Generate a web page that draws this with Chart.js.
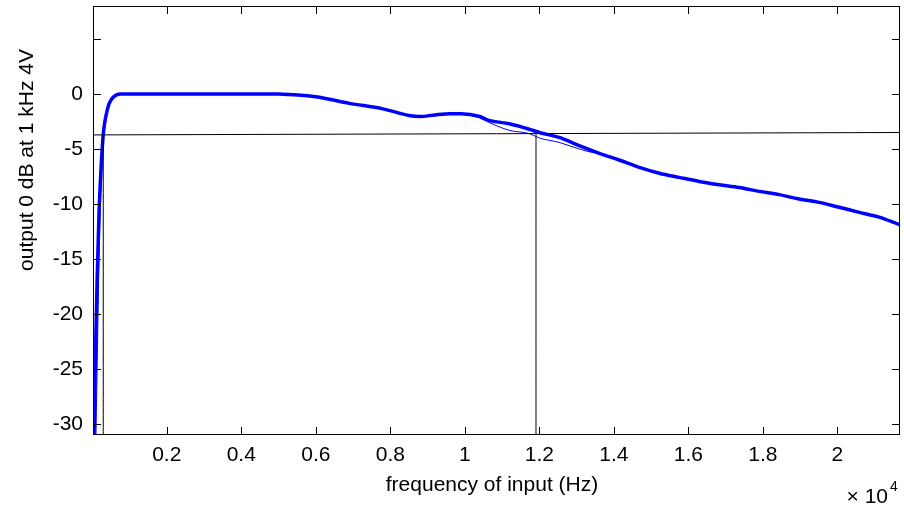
<!DOCTYPE html>
<html>
<head>
<meta charset="utf-8">
<script src="https://cdn.jsdelivr.net/npm/chart.js@4/dist/chart.umd.min.js"></script>
<style>
  html, body { margin: 0; padding: 0; background: #fff; }
  #wrap { width: 904px; height: 510px; position: relative; }
</style>
</head>
<body>
<div id="wrap"><canvas id="c" width="904" height="510"></canvas></div>
<script>
// ---- data ----
const freqThick = [20, 50, 90, 130, 180, 240, 295, 330, 380, 450, 560, 750, 1000, 2000, 3000, 4000, 5000, 5300, 6000, 6900, 7800, 8500, 8800, 9200, 9600, 9900, 10400, 10650, 11190, 11730, 12000, 12530, 13070, 13610, 14140, 14680, 15220, 15750, 16290, 16830, 17360, 17900, 18440, 18970, 19510, 20050, 20590, 21120, 21680];
const dbThick   = [-40, -31, -23, -17, -11, -6.5, -3.7, -2.7, -1.8, -0.9, -0.3, 0, 0, 0, 0, 0, 0, -0.05, -0.25, -0.85, -1.35, -1.95, -2.05, -1.9, -1.8, -1.8, -2.05, -2.4, -2.7, -3.2, -3.5, -3.95, -4.7, -5.4, -6.0, -6.67, -7.2, -7.58, -7.95, -8.25, -8.5, -8.85, -9.15, -9.55, -9.85, -10.3, -10.76, -11.2, -11.9];
const freqThin  = [60, 100, 140, 170, 210, 260, 300, 330, 380, 450, 560, 750, 5000, 5300, 6000, 6900, 7800, 8500, 8800, 9200, 9600, 9900, 10300, 10470, 11190, 11730, 12000, 12530, 13070, 13400, 13610, 14140, 14680, 15220, 15750, 16290, 16830, 17360, 17900, 18440, 18970, 19510, 20050, 20590, 21120, 21680];
const dbThin    = [-40, -31, -23, -17, -11, -6.5, -3.8, -2.7, -1.8, -0.9, -0.3, 0, 0, -0.05, -0.25, -0.85, -1.35, -1.95, -2.05, -1.9, -1.8, -1.8, -2.0, -2.3, -3.3, -3.6, -4.0, -4.4, -5.0, -5.3, -5.4, -6.0, -6.67, -7.2, -7.58, -7.95, -8.25, -8.5, -8.85, -9.15, -9.55, -9.85, -10.3, -10.76, -11.2, -11.9];
const refLevelX = [20, 21680];
const refLevelY = [-3.72, -3.5];
const cutoffLow = 295;
const cutoffHigh = 11910;
const xTickValues = [2000, 4000, 6000, 8000, 10000, 12000, 14000, 16000, 18000, 20000];
const yTickValues = [-30, -25, -20, -15, -10, -5, 0, 5];
const yLabelHidden = [5];
const xRange = [20, 21680];
const yRange = [-31, 8];
const xTitle = 'frequency of input (Hz)';
const yTitle = 'output 0 dB at 1 kHz 4V';
const xExponent = '4';

const toPts = (xs, ys) => xs.map((x, i) => ({ x: x, y: ys[i] }));

const FONT = '"Liberation Sans", Arial, sans-serif';

const framePlugin = {
  id: 'matlabFrame',
  afterDatasetsDraw(chart) {
    const { ctx, chartArea: a, scales } = chart;
    const xs = scales.x, ys = scales.y;
    ctx.save();
    ctx.strokeStyle = '#000';
    ctx.lineWidth = 1;
    const tl = 8;
    ctx.beginPath();
    xs.ticks.forEach(t => {
      const px = Math.round(xs.getPixelForValue(t.value)) + 0.5;
      ctx.moveTo(px, a.bottom); ctx.lineTo(px, a.bottom - tl);
      ctx.moveTo(px, a.top); ctx.lineTo(px, a.top + tl);
    });
    ys.ticks.forEach(t => {
      const py = Math.round(ys.getPixelForValue(t.value)) + 0.5;
      ctx.moveTo(a.left, py); ctx.lineTo(a.left + tl, py);
      ctx.moveTo(a.right, py); ctx.lineTo(a.right - tl, py);
    });
    ctx.stroke();
    ctx.strokeRect(Math.round(a.left) + 0.5, Math.round(a.top) + 0.5,
                   Math.round(a.right - a.left) - 1, Math.round(a.bottom - a.top) - 1);
    ctx.restore();
  },
  afterDraw(chart) {
    const { ctx } = chart;
    ctx.save();
    ctx.fillStyle = '#000';
    ctx.font = '21px ' + FONT;
    ctx.textAlign = 'center';
    ctx.textBaseline = 'alphabetic';
    ctx.fillText(xTitle, 492, 491);
    ctx.save();
    ctx.translate(33, 160);
    ctx.rotate(-Math.PI / 2);
    ctx.fillText(yTitle, 0, 0);
    ctx.restore();
    ctx.textAlign = 'right';
    ctx.font = '21px ' + FONT;
    ctx.fillText('\u00d7 10', 888, 503);
    ctx.textAlign = 'left';
    ctx.font = '14px ' + FONT;
    ctx.fillText(xExponent, 890, 491);
    ctx.restore();
  }
};

new Chart(document.getElementById('c'), {
  type: 'line',
  data: {
    datasets: [
      { data: toPts(refLevelX, refLevelY), borderColor: '#000', borderWidth: 1, pointRadius: 0, order: 0 },
      { data: [{ x: cutoffLow, y: refLevelY[0] }, { x: cutoffLow, y: yRange[0] }], borderColor: '#000', borderWidth: 1, pointRadius: 0, order: 0 },
      { data: [{ x: cutoffHigh, y: -3.55 }, { x: cutoffHigh, y: yRange[0] }], borderColor: '#000', borderWidth: 1, pointRadius: 0, order: 0 },
      { data: toPts(freqThin, dbThin), borderColor: '#0000ff', borderWidth: 1, pointRadius: 0, order: 1 },
      { data: toPts(freqThick, dbThick), borderColor: '#0000ff', borderWidth: 3.5, pointRadius: 0, order: 2 }
    ]
  },
  options: {
    responsive: false,
    animation: false,
    layout: { padding: { left: 0, right: 4, top: 6, bottom: 0 } },
    plugins: { legend: { display: false }, tooltip: { enabled: false } },
    elements: { line: { tension: 0.3, cubicInterpolationMode: 'monotone' } },
    scales: {
      x: {
        type: 'linear', min: xRange[0], max: xRange[1],
        grid: { display: false, drawTicks: false },
        border: { display: false },
        afterBuildTicks: s => { s.ticks = xTickValues.map(v => ({ value: v })); },
        afterFit: s => { s.height = 75; s.paddingLeft = 0; s.paddingRight = 0; },
        ticks: {
          autoSkip: false, maxRotation: 0, padding: 8, color: '#000',
          font: { family: FONT, size: 21 },
          callback: v => String(v / 10000)
        }
      },
      y: {
        type: 'linear', min: yRange[0], max: yRange[1],
        grid: { display: false, drawTicks: false },
        border: { display: false },
        afterBuildTicks: s => { s.ticks = yTickValues.map(v => ({ value: v })); },
        afterFit: s => { s.width = 93; s.paddingTop = 0; s.paddingBottom = 0; },
        ticks: {
          autoSkip: false, padding: 10, color: '#000',
          font: { family: FONT, size: 21 },
          callback: v => (yLabelHidden.includes(v) ? '' : String(v))
        }
      }
    }
  },
  plugins: [framePlugin]
});
</script>
</body>
</html>
